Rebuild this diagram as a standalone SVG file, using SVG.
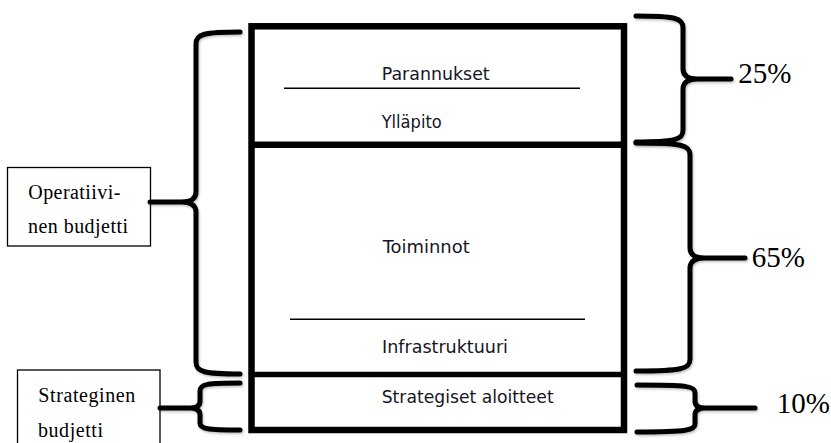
<svg xmlns="http://www.w3.org/2000/svg" width="831" height="443" viewBox="0 0 831 443">
  <style>
    .sec { font-family: "DejaVu Sans", Verdana, sans-serif; font-size: 18px; fill: #15151f; }
    .lbl { font-family: "Liberation Serif", "Times New Roman", serif; font-size: 20px; fill: #000; }
    .pct { font-family: "Liberation Serif", "Times New Roman", serif; font-size: 29px; fill: #000; }
    .brace { fill: none; stroke: #000; stroke-width: 5; stroke-linecap: round; stroke-linejoin: round; filter: url(#sh); }
    .thin { stroke: #000; stroke-width: 1.4; }
    .box { fill: #fff; stroke: #000; stroke-width: 1.3; }
  </style>
  <defs>
    <filter id="sh" x="-20%" y="-20%" width="140%" height="140%">
      <feDropShadow dx="1" dy="1.5" stdDeviation="1" flood-color="#000" flood-opacity="0.25"/>
    </filter>
  </defs>
  <rect width="831" height="443" fill="#fff"/>

  <g id="main-box">
    <rect x="251.5" y="26.3" width="372.5" height="403.7" fill="none" stroke="#000" stroke-width="6.5"/>
    <line x1="251.5" y1="144.7" x2="624" y2="144.7" stroke="#000" stroke-width="6.5"/>
    <line x1="251.5" y1="374.5" x2="624" y2="374.5" stroke="#000" stroke-width="5.5"/>
  </g>

  <g id="section-top">
    <text class="sec" x="381.7" y="80" textLength="108" lengthAdjust="spacingAndGlyphs">Parannukset</text>
    <line class="thin" x1="284" y1="88.3" x2="580" y2="88.3"/>
    <text class="sec" x="381.7" y="128.3" textLength="60" lengthAdjust="spacingAndGlyphs">Ylläpito</text>
  </g>

  <g id="section-middle">
    <text class="sec" x="382.7" y="253.3" textLength="87" lengthAdjust="spacingAndGlyphs">Toiminnot</text>
    <line class="thin" x1="290" y1="319.3" x2="585" y2="319.3"/>
    <text class="sec" x="382" y="353.3" textLength="126" lengthAdjust="spacingAndGlyphs">Infrastruktuuri</text>
  </g>

  <g id="section-bottom">
    <text class="sec" x="381.7" y="402.7" textLength="172" lengthAdjust="spacingAndGlyphs">Strategiset aloitteet</text>
  </g>

  <g id="label-operatiivinen">
    <rect class="box" x="7.5" y="167.5" width="143" height="78.5"/>
    <text class="lbl" x="28.3" y="199.3" textLength="92" lengthAdjust="spacing">Operatiivi-</text>
    <text class="lbl" x="28" y="233.3" textLength="100" lengthAdjust="spacing">nen budjetti</text>
  </g>

  <g id="label-strateginen">
    <rect class="box" x="17.5" y="370" width="142.5" height="80"/>
    <text class="lbl" x="38.3" y="401.7" textLength="97" lengthAdjust="spacing">Strateginen</text>
    <text class="lbl" x="38" y="436.7" textLength="65" lengthAdjust="spacing">budjetti</text>
  </g>

  <g id="pct-25"><text class="pct" x="738.3" y="83.3">25%</text></g>
  <g id="pct-65"><text class="pct" x="751.7" y="266.7">65%</text></g>
  <g id="pct-10"><text class="pct" x="776.7" y="413.3">10%</text></g>

  <g id="connectors">
    <path class="brace" d="M636,16 C675,16 683,18 683,28 L683,69 C683,76 689,79 697,79 L731,79 M697,79 C689,79 683,82 683,89 L683,130 C683,140 675,142 636,142"/>
    <path class="brace" d="M636,143 C682,143 690,145 690,155 L690,248 C690,255 696,258 704,258 L745,258 M704,258 C696,258 690,261 690,268 L690,359 C690,369 682,371 636,371"/>
    <path class="brace" d="M637,385 C688,385 695,386 695,393 L695,401 C695,406 699,408 705,408 L755,408 M705,408 C699,408 695,410 695,415 L695,424 C695,430 688,432 637,432"/>
    <path class="brace" d="M240,32 C204,32 196,34 196,44 L196,192 C196,199 190,202 182,202 L150,202 M182,202 C190,202 196,205 196,212 L196,362 C196,372 204,374 240,374"/>
    <path class="brace" d="M240,383 C207,383 200,384 200,391 L200,401 C200,406 196,408 190,408 L160,408 M190,408 C196,408 200,410 200,415 L200,423 C200,429 207,430 240,430"/>
  </g>
</svg>
